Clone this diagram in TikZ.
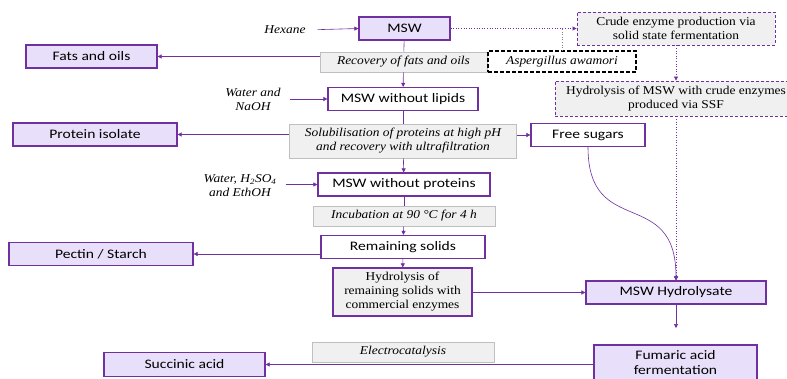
\documentclass[tikz,border=0pt]{standalone}
\usepackage{fontspec}
\setmainfont{Liberation Serif}[FakeStretch=1.12]
\newfontfamily\boxfont{Carlito}[FakeStretch=1.2]
\usetikzlibrary{arrows.meta}

\definecolor{mswpurple}{HTML}{7030A0}
\definecolor{mswlav}{HTML}{E8E0FA}
\definecolor{mswgray}{HTML}{F0F0F0}
\definecolor{mswedge}{HTML}{BFBFBF}
\definecolor{mswsoft}{HTML}{A898C8}

\tikzset{
  product/.style={draw=mswpurple, line width=1.2pt, fill=mswlav, inner sep=0pt,
    align=center, font=\boxfont\fontsize{13}{16}\selectfont},
  stream/.style={product, fill=white},
  process/.style={draw=mswedge, line width=0.8pt, fill=mswgray, inner sep=0pt,
    align=center, font=\fontsize{12}{14}\selectfont\itshape},
  enzbox/.style={process, draw=mswpurple, line width=1.2pt, font=\fontsize{12}{14}\selectfont},
  ssfbox/.style={process, draw=mswpurple, dash pattern=on 3pt off 2pt, font=\fontsize{12}{14}\selectfont},
  reagent/.style={inner sep=0pt, align=center, font=\fontsize{12}{14}\selectfont\itshape},
  link/.style={draw=mswpurple, line width=0.6pt},
  soft/.style={draw=mswsoft, line width=0.6pt},
  arr/.style={-{Triangle[length=4pt,width=4pt]}, mswpurple},
}

\begin{document}
\begin{tikzpicture}[x=1pt,y=-1pt]
\useasboundingbox (0,0) rectangle (787,379);
\clip (0,0) rectangle (787,379);

% main line
\node[product, minimum width=91pt, minimum height=23pt] (msw) at (404.5,28.5) {MSW};
\node[process, minimum width=167pt, minimum height=20pt] (recovery) at (403.5,62) {Recovery of fats and oils};
\node[stream, minimum width=150pt, minimum height=23pt] (lipids) at (403,99) {MSW without lipids};
\node[process, minimum width=227pt, minimum height=34pt] (solub) at (403,141)
  {Solubilisation of proteins at high pH\\and recovery with ultrafiltration};
\node[stream, minimum width=172pt, minimum height=23pt] (proteins) at (404,184.5) {MSW without proteins};
\node[process, minimum width=182pt, minimum height=20pt] (incub) at (404,216) {Incubation at 90 °C for 4 h};
\node[stream, minimum width=164pt, minimum height=23pt] (remaining) at (403,247) {Remaining solids};
\node[enzbox, minimum width=139pt, minimum height=48pt] (hydro) at (402.5,292)
  {Hydrolysis of\\remaining solids with\\commercial enzymes};

% products on the left
\node[product, minimum width=131pt, minimum height=23pt] (fats) at (91.5,56.5) {Fats and oils};
\node[product, minimum width=164pt, minimum height=23pt] (protein) at (95,134.5) {Protein isolate};
\node[product, minimum width=184pt, minimum height=23pt] (pectin) at (101,254) {Pectin / Starch};
\node[product, minimum width=161pt, minimum height=24pt] (succinic) at (184.5,364.5) {Succinic acid};
\node[process, minimum width=182pt, minimum height=20pt] (electro) at (403,352) {Electrocatalysis};

% reagents
\node[reagent] (hexane) at (285,30) {Hexane};
\node[reagent] (naoh) at (253,99) {Water and\\NaOH};
\node[reagent] (acid) at (240,186) {Water, H\textsubscript{2}SO\textsubscript{4}\\and EthOH};

% right branch
\node[ssfbox, minimum width=198pt, minimum height=33pt] (crude) at (676,28.5)
  {Crude enzyme production via\\solid state fermentation};
\node[process, draw=black, line width=1.2pt, fill=white, dash pattern=on 4pt off 2pt,
  minimum width=148pt, minimum height=21pt] (asp) at (562,61.5) {Aspergillus awamori};
\node[ssfbox, minimum width=242pt, minimum height=35pt] (ssf) at (676,98.5)
  {Hydrolysis of MSW with crude enzymes\\produced via SSF};
\node[stream, minimum width=114pt, minimum height=23pt] (sugars) at (588,135) {Free sugars};
\node[product, minimum width=180pt, minimum height=23pt] (hydrolysate) at (676,292.5) {MSW Hydrolysate};
\node[product, minimum width=163pt, minimum height=35pt, font=\boxfont\fontsize{13}{15}\selectfont]
  (fumaric) at (675.5,362.5) {Fumaric acid\\fermentation};
\coordinate (fumtop) at (676,328);

% connectors
\draw[link] (msw) -- (recovery);
\draw[link, arr] (recovery) -- (lipids);
\draw[link] (lipids) -- (solub);
\draw[link, arr] (solub) -- (proteins);
\draw[link] (proteins) -- (incub);
\draw[link, arr] (incub) -- (remaining);
\draw[link, arr] (remaining) -- (hydro);

\draw[link, arr] (recovery.west |- fats.east) -- (fats.east);
\draw[link, arr] (solub.west |- protein.east) -- (protein.east);
\draw[soft, arr] (remaining.west |- pectin.east) -- (pectin.east);
\draw[soft, arr] (fumaric.west |- succinic.east) -- (succinic.east);

\draw[link, arr, shorten <=12pt] (hexane.east) -- (msw.west);
\draw[link, arr, shorten <=9pt] (naoh.east |- lipids.west) -- (lipids.west);
\draw[link, arr, shorten <=9pt] (acid.east |- proteins.west) -- (proteins.west);

\draw[link, arr] (solub.east |- sugars.west) -- (sugars.west);
\draw[link, arr] (hydro.east |- hydrolysate.west) -- (hydrolysate.west);
\draw[link, arr] (hydrolysate) -- (fumtop);

\draw[link, dotted, arr] (msw.east) -- (crude.west);
\draw[gray, line width=0.6pt, dotted] (asp.north) -- (asp.north |- msw.east);
\draw[gray, line width=0.6pt, dotted, arr] (crude) -- (ssf);
\draw[gray, line width=0.6pt, dotted, arr] (ssf) -- (hydrolysate);
\draw[soft, arr] (sugars.south) .. controls (588,240) and (676,185) .. (hydrolysate.north);

\end{tikzpicture}
\end{document}
